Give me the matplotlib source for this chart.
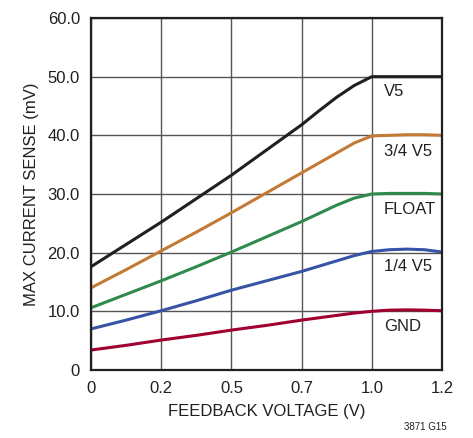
import numpy as np
import matplotlib
matplotlib.use('Agg')
import matplotlib.pyplot as plt

plt.rcParams['font.family'] = ['Liberation Sans', 'DejaVu Sans']

# x positions are evenly spaced ticks (axis is not linear in volts)
x_labels = ['0', '0.2', '0.5', '0.7', '1.0', '1.2']
x_pos = [0, 0.5, 1, 1.5, 2, 2.5, 3, 3.25, 3.5, 3.75, 4, 4.25, 4.5, 4.75, 5]

v5 = [17.6, 21.4, 25.2, 29.2, 33.2, 37.5, 41.8, 44.2, 46.5, 48.5, 50.0, 50.0, 50.0, 50.0, 50.0]
v5_34 = [14.0, 17.1, 20.3, 23.5, 26.8, 30.2, 33.6, 35.3, 37.0, 38.7, 39.9, 40.0, 40.1, 40.1, 40.0]
floatv = [10.6, 12.9, 15.2, 17.6, 20.1, 22.7, 25.3, 26.7, 28.1, 29.3, 30.0, 30.1, 30.1, 30.1, 30.0]
v5_14 = [7.0, 8.5, 10.1, 11.8, 13.6, 15.2, 16.8, 17.7, 18.6, 19.5, 20.2, 20.5, 20.6, 20.5, 20.1]
gnd = [3.4, 4.2, 5.1, 5.9, 6.8, 7.6, 8.5, 8.9, 9.3, 9.7, 10.0, 10.2, 10.25, 10.2, 10.1]

series = [
    ('V5', v5, '#231f20'),
    ('3/4 V5', v5_34, '#c27a35'),
    ('FLOAT', floatv, '#2f8a4c'),
    ('1/4 V5', v5_14, '#3653a5'),
    ('GND', gnd, '#a0002f'),
]

fig = plt.figure(figsize=(4.73, 4.38), dpi=100)
ax = fig.add_axes([0.1924, 0.1553, 0.7421, 0.8036])

for name, vals, col in series:
    ax.plot(x_pos, vals, color=col, lw=2.2, solid_capstyle='butt',
            solid_joinstyle='round', zorder=3)
    ax.text(4.17, vals[10] - 2.6, name, fontsize=12, va='center', ha='left', color='#231f20')

ax.set_xlim(0, 5)
ax.set_ylim(0, 60)
ax.set_xticks(range(6))
ax.set_xticklabels(x_labels)
ax.set_yticks(range(0, 61, 10))
ax.set_yticklabels(['0', '10.0', '20.0', '30.0', '40.0', '50.0', '60.0'])
ax.grid(True, color='#555555', lw=1)
ax.tick_params(length=0, labelsize=12, pad=8, colors='#231f20')
for s in ax.spines.values():
    s.set_linewidth(1.6)
    s.set_color('#231f20')
    s.set_zorder(4)

ax.set_xlabel('FEEDBACK VOLTAGE (V)', fontsize=12, color='#231f20', labelpad=6)
ax.set_ylabel('MAX CURRENT SENSE (mV)', fontsize=12, color='#231f20', labelpad=6)
fig.text(0.945, 0.014, '3871 G15', fontsize=7, ha='right', va='bottom', color='#231f20')

fig.savefig('out.png', dpi=100)
